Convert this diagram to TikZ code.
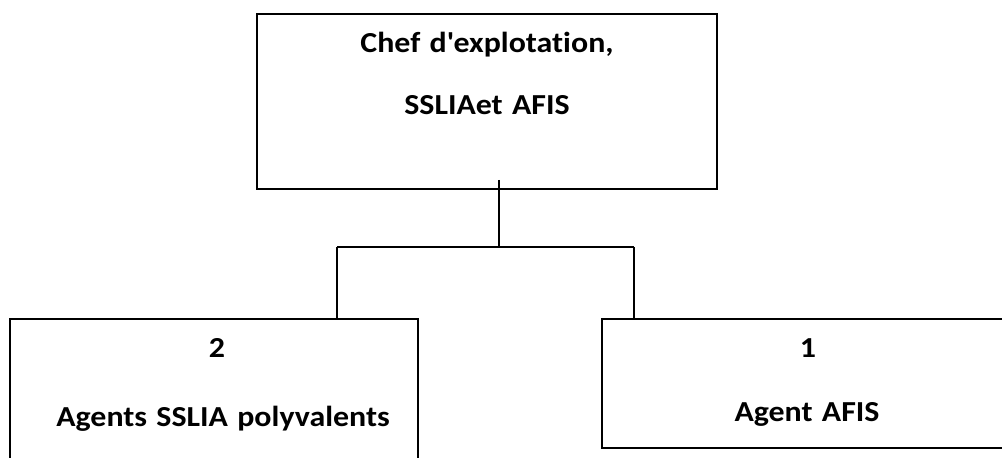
\documentclass[tikz,border=0pt]{standalone}
\usepackage{fontspec}
\setmainfont{Carlito}[Ligatures=NoCommon, FakeStretch=1.1, WordSpace=1.3]
\usetikzlibrary{positioning}

\tikzset{
  unitbox/.style={draw, line width=1pt, inner sep=0pt},
  lbl/.style={anchor=base, inner sep=0pt, font=\fontsize{14.5}{17}\selectfont\bfseries},
  link/.style={line width=1pt}
}

\begin{document}
\begin{tikzpicture}[x=0.5pt,y=-0.5pt]
\useasboundingbox (0,0) rectangle (1002,458);
% boxes
\node[unitbox,minimum width=230pt,minimum height=87.5pt] (chef) at (487,101.5) {};
\node[unitbox,minimum width=204pt,minimum height=75.5pt] (sslia) at (214,394.5) {};
\node[unitbox,minimum width=214pt,minimum height=64.5pt] (afis) at (816,383.5) {};
% texts
\node[lbl] (chefa) at (487,53) {Chef d\textquotesingle explotation,};
\node[lbl] (chefb) at (487,115) {SSLIAet AFIS};
\node[lbl] (ssliaa) at (217,358) {2};
\node[lbl] (ssliab) at (223,427) {Agents SSLIA polyvalents};
\node[lbl] (afisa) at (808,358) {1};
\node[lbl] (afisb) at (807,422) {Agent AFIS};
% links
\coordinate (stem) at (499,180);
\coordinate (fork) at (499,247);
\coordinate (forkl) at (337,247);
\coordinate (forkr) at (634,247);
\draw[link] (stem) -- (fork);
\draw[link] (forkl) -- (forkr);
\draw[link] (forkl) -- (forkl |- sslia.north);
\draw[link] (forkr) -- (forkr |- afis.north);
\end{tikzpicture}
\end{document}
